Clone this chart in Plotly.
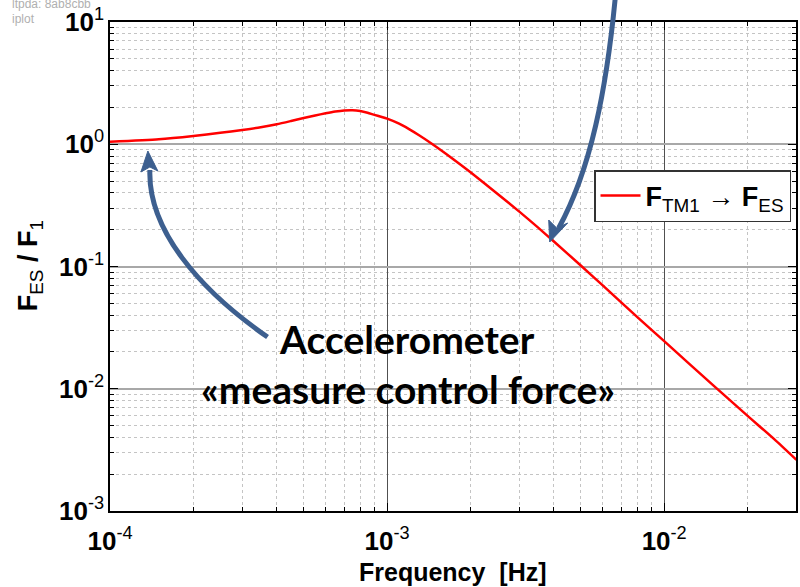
import plotly.graph_objects as go
import math

# ---- data ----
freq = [1e-4, 1.5e-4, 2e-4, 2.5e-4, 3e-4, 3.5e-4, 4e-4, 4.5e-4, 5e-4, 5.5e-4,
        6e-4, 6.5e-4, 7e-4, 7.5e-4, 8e-4, 8.5e-4, 9e-4, 9.5e-4, 1e-3, 1.1e-3,
        1.2e-3, 1.3e-3, 1.45e-3, 1.7e-3, 2e-3, 2.5e-3, 3e-3, 3.5e-3, 4e-3, 5e-3,
        6e-3, 8e-3, 1e-2, 1.5e-2, 2e-2, 2.5e-2, 3e-2]
ratio = [1.05, 1.10, 1.17, 1.24, 1.31, 1.38, 1.46, 1.55, 1.64, 1.72,
         1.79, 1.85, 1.89, 1.90, 1.87, 1.81, 1.74, 1.68, 1.62, 1.48,
         1.33, 1.19, 1.01, 0.78, 0.59, 0.394, 0.281, 0.209, 0.16, 0.102,
         0.070, 0.0385, 0.0245, 0.0107, 0.0060, 0.00385, 0.00262]
series_name = "<b>F</b><sub>TM1</sub> \u2192 <b>F</b><sub>ES</sub>"

x_ticks = [1e-4, 1e-3, 1e-2]
x_ticktext = ["<b>10</b><sup>-4</sup>", "<b>10</b><sup>-3</sup>", "<b>10</b><sup>-2</sup>"]
y_ticks = [1e-3, 1e-2, 1e-1, 1e0, 1e1]
y_ticktext = ["<b>10</b><sup>-3</sup>", "<b>10</b><sup>-2</sup>", "<b>10</b><sup>-1</sup>",
              "<b>10</b><sup>0</sup>", "<b>10</b><sup>1</sup>"]

x_minor = [k * 10.0 ** e for e in (-4, -3, -2) for k in range(2, 10)]
y_minor = [k * 10.0 ** e for e in (-3, -2, -1, 0) for k in range(2, 10)]

W, H = 800, 587
L, R, T, B = 110, 798, 22, 511  # plot area in pixels


def px(x):
    return (x - L) / (R - L)


def py(y):
    return (B - y) / (B - T)


fig = go.Figure()
fig.add_trace(go.Scatter(x=freq, y=ratio, mode="lines", name=series_name,
                         line=dict(color="#ff0000", width=2.5, shape="spline", smoothing=0.6),
                         showlegend=True))

tickfont = dict(family="Liberation Sans, Arial", size=26, color="black")

common = dict(type="log", showline=True, linecolor="black", linewidth=1.5, mirror="allticks",
              ticks="inside", ticklen=8, tickwidth=1.2, tickcolor="black",
              tickfont=tickfont, zeroline=False)

fig.update_xaxes(range=[-4, math.log10(0.0299)], tickmode="array", tickvals=x_ticks,
                 ticktext=x_ticktext, gridcolor="#505050", gridwidth=1,
                 minor=dict(tickmode="array", tickvals=x_minor, ticks="inside", ticklen=4,
                            tickcolor="black", showgrid=True, gridcolor="#c4c4c4",
                            griddash="dot", gridwidth=1),
                 ticklabelstandoff=6, **common)
fig.update_yaxes(range=[-3, 1], tickmode="array", tickvals=y_ticks,
                 ticktext=y_ticktext, gridcolor="#a8a8a8", gridwidth=2,
                 minor=dict(tickmode="array", tickvals=y_minor, ticks="inside", ticklen=4,
                            tickcolor="black", showgrid=True, gridcolor="#c4c4c4",
                            griddash="dot", gridwidth=1),
                 ticklabelstandoff=-1, **common)

blue = "#3d5f8f"
shapes = []
# arrow 1 shaft
shapes.append(dict(type="path", xref="paper", yref="paper",
                   path=f"M {px(268)},{py(337)} C {px(200)},{py(290)} {px(148)},{py(230)} {px(150)},{py(170)}",
                   line=dict(color=blue, width=5)))
# arrow 1 head
shapes.append(dict(type="path", xref="paper", yref="paper",
                   path=f"M {px(148)},{py(151)} L {px(141)},{py(172)} L {px(150)},{py(167)} L {px(158)},{py(171)} Z",
                   fillcolor=blue, line=dict(color=blue, width=1)))
# arrow 2 shaft
shapes.append(dict(type="path", xref="paper", yref="paper",
                   path=f"M {px(617)},{py(-5)} C {px(608)},{py(90)} {px(592)},{py(170)} {px(560)},{py(228)}",
                   line=dict(color=blue, width=5)))
# arrow 2 head
shapes.append(dict(type="path", xref="paper", yref="paper",
                   path=f"M {px(551)},{py(242)} L {px(550)},{py(220)} L {px(558)},{py(228)} L {px(569)},{py(223)} Z",
                   fillcolor=blue, line=dict(color=blue, width=1)))

ann_font = dict(family="Lato, Open Sans, sans-serif", size=39, color="black")
annotations = [
    dict(text="<b>Accelerometer</b>", x=px(408), y=py(339), xref="paper", yref="paper",
         showarrow=False, xanchor="center", yanchor="middle", font=ann_font),
    dict(text="<b>\u00abmeasure control force\u00bb</b>", x=px(409), y=py(389), xref="paper", yref="paper",
         showarrow=False, xanchor="center", yanchor="middle", font=ann_font),
    dict(text="ltpda: 8ab8cbb", x=px(10), y=py(4), xref="paper", yref="paper",
         showarrow=False, xanchor="left", yanchor="middle",
         font=dict(family="Liberation Sans, Arial", size=12, color="#b0b0b0")),
    dict(text="iplot", x=px(10), y=py(19), xref="paper", yref="paper",
         showarrow=False, xanchor="left", yanchor="middle",
         font=dict(family="Liberation Sans, Arial", size=12, color="#b0b0b0")),
    dict(text="<b>F</b><sub>ES</sub><b> / F</b><sub>1</sub>", x=px(30), y=py(266), xref="paper", yref="paper",
         showarrow=False, xanchor="center", yanchor="middle", textangle=-90,
         font=dict(family="Liberation Sans, Arial", size=27, color="black")),
    dict(text="<b>Frequency  [Hz]</b>", x=px(454), y=py(572), xref="paper", yref="paper",
         showarrow=False, xanchor="center", yanchor="middle",
         font=dict(family="Liberation Sans, Arial", size=25, color="black")),
]

fig.update_layout(
    width=W, height=H,
    margin=dict(l=L, r=W - R, t=T, b=H - B, pad=0),
    plot_bgcolor="white", paper_bgcolor="white",
    shapes=shapes, annotations=annotations,
    legend=dict(x=px(793), y=py(170), xanchor="right", yanchor="top",
                bgcolor="white", bordercolor="#333333", borderwidth=1.5,
                font=dict(family="Liberation Sans, Arial", size=27, color="black"),
                itemwidth=40),
)

fig.write_html("out.html")
